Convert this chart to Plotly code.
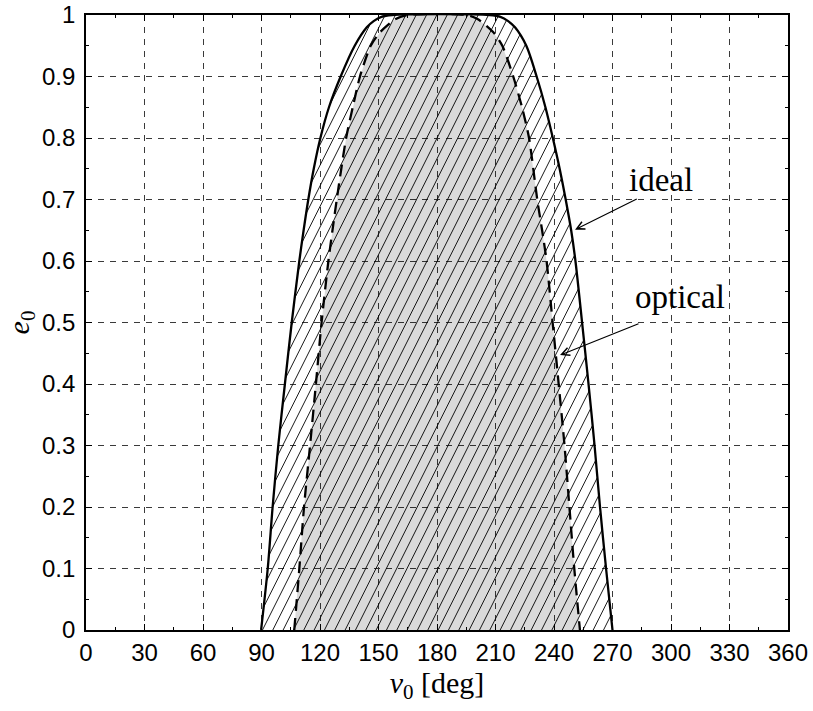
import numpy as np
import plotly.graph_objects as go

# ---------------- data ----------------
ideal_e = [0, 0.1, 0.2, 0.3, 0.4, 0.5, 0.6, 0.65, 0.7, 0.75, 0.8, 0.85, 0.9, 0.95, 0.98, 0.99, 0.997, 1.0]
ideal_left = [89.8, 93.2, 95.7, 98.6, 102.0, 105.5, 109.4, 111.6, 114.0, 116.8, 120.2, 124.6, 130.6, 137.8, 144.0, 147.5, 151.5, 157.0]
ideal_right = [270.0, 266.7, 263.6, 260.8, 257.7, 254.4, 251.0, 248.8, 246.0, 242.9, 239.4, 235.6, 231.1, 225.8, 220.0, 216.5, 212.5, 207.0]

optical_e = [0, 0.1, 0.2, 0.3, 0.4, 0.5, 0.6, 0.65, 0.7, 0.8, 0.85, 0.9, 0.95, 0.972, 0.993, 1.0]
optical_left = [106.8, 109.4, 111.8, 114.9, 117.9, 120.8, 124.3, 126.4, 128.6, 133.4, 136.8, 140.5, 146.0, 150.8, 158.5, 165.0]
optical_right = [253.3, 250.4, 247.9, 245.4, 242.4, 239.3, 236.2, 233.9, 231.4, 227.2, 223.6, 219.1, 213.5, 208.9, 201.0, 195.0]

x_ticks = list(range(0, 361, 30))
y_ticks = [round(0.1 * i, 1) for i in range(11)]

labels = ["ideal", "optical"]
label_pos = [(295.0, 0.731), (304.5, 0.541)]
arrow_tail = [(283.2, 0.702), (284.1, 0.499)]
arrow_tip = [(250.8, 0.651), (243.1, 0.447)]

# ---------------- closed outlines ----------------
ix = ideal_left + ideal_right[::-1]
iy = ideal_e + ideal_e[::-1]
ox = optical_left + optical_right[::-1]
oy = optical_e + optical_e[::-1]

# ---------------- hatch lines clipped to the ideal region ----------------
K = 158.3       # deg per unit e for the hatch slope
step = 5.3      # hatch spacing in deg
ee = np.linspace(0, 1, 3001)
xl = np.interp(ee, ideal_e, ideal_left)
xr = np.interp(ee, ideal_e, ideal_right)
hx, hy = [], []
c = min(ideal_left) - K
while c < max(ideal_right):
    xx = c + K * ee
    m = (xx >= xl) & (xx <= xr)
    if m.any():
        idx = np.where(m)[0]
        breaks = np.where(np.diff(idx) > 1)[0]
        starts = np.r_[idx[0], idx[breaks + 1]]
        ends = np.r_[idx[breaks], idx[-1]]
        for s, e_ in zip(starts, ends):
            hx += [xx[s], xx[e_], None]
            hy += [ee[s], ee[e_], None]
    c += step

fig = go.Figure()
fig.add_trace(go.Scatter(x=ox, y=oy, fill="toself", fillcolor="rgba(0,0,0,0.145)",
                         mode="lines", line=dict(width=0), hoverinfo="skip", showlegend=False))
fig.add_trace(go.Scatter(x=hx, y=hy, mode="lines", line=dict(color="black", width=0.9),
                         hoverinfo="skip", showlegend=False))
fig.add_trace(go.Scatter(x=ix, y=iy, mode="lines",
                         line=dict(color="black", width=2.3, shape="spline", smoothing=0.8),
                         showlegend=False))
fig.add_trace(go.Scatter(x=ox, y=oy, mode="lines",
                         line=dict(color="black", width=2.3, dash="12px,7px", shape="spline", smoothing=0.7),
                         showlegend=False))

for lab, (tx, ty) in zip(labels, label_pos):
    fig.add_annotation(x=tx, y=ty, text=lab, showarrow=False,
                       font=dict(family="Liberation Serif", size=33, color="black"))
for (ax_, ay_), (px, py) in zip(arrow_tail, arrow_tip):
    fig.add_annotation(x=px, y=py, ax=ax_, ay=ay_, axref="x", ayref="y", text="",
                       showarrow=True, arrowhead=5, arrowsize=1.3, arrowwidth=1.2, arrowcolor="black")

axis_common = dict(
    showline=True, linecolor="black", linewidth=1.6, mirror="allticks",
    ticks="inside", ticklen=6, tickwidth=1, tickcolor="black",
    showgrid=True, gridcolor="#3a3a3a", gridwidth=1, griddash="6px,6px",
    zeroline=False, automargin=False, ticklabeloverflow="allow",
    tickfont=dict(family="Liberation Sans", size=24, color="black"),
)

fig.update_xaxes(range=[0, 360], tickvals=x_ticks, ticktext=[str(v) for v in x_ticks],
                 minor=dict(dtick=15, ticks="inside", ticklen=3.5, tickcolor="black", showgrid=False),
                 title=dict(text="<i>ν</i><sub>0</sub> [deg]", standoff=2,
                            font=dict(family="Liberation Serif", size=30, color="black")),
                 **axis_common)
fig.update_yaxes(range=[0, 1], tickvals=y_ticks, ticktext=[("%g" % v) for v in y_ticks],
                 minor=dict(dtick=0.05, ticks="inside", ticklen=3.5, tickcolor="black", showgrid=False),
                 title=dict(text="<i>e</i><sub>0</sub>", standoff=4,
                            font=dict(family="Liberation Serif", size=30, color="black")),
                 ticklabelstandoff=4,
                 **axis_common)

fig.update_layout(width=813, height=711, margin=dict(l=86, r=25, t=15, b=81),
                  plot_bgcolor="white", paper_bgcolor="white")
fig.write_html("out.html")
